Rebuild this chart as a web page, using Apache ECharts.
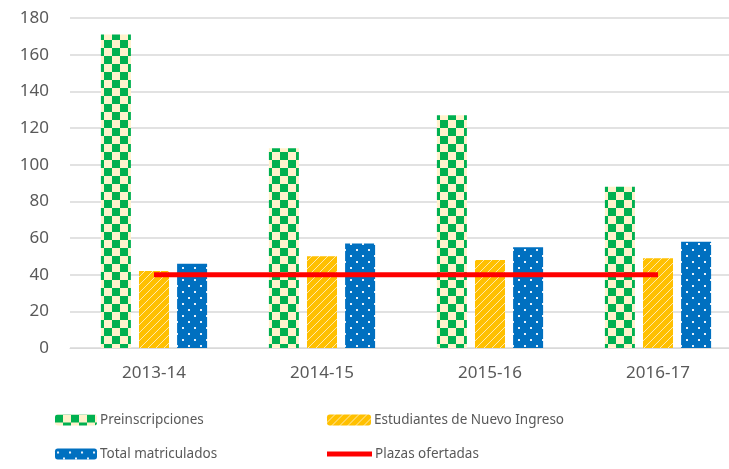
<!DOCTYPE html>
<html>
<head>
<meta charset="utf-8">
<script src="https://cdn.jsdelivr.net/npm/echarts@6/dist/echarts.min.js"></script>
<style>
  html, body { margin: 0; padding: 0; background: #fff; overflow: hidden; }
  #plot { width: 745px; height: 469px; }
</style>
</head>
<body>
<div id="plot"></div>
<script>
const years = ['2013-14', '2014-15', '2015-16', '2016-17'];
const preinscripciones = [171, 109, 127, 88];
const nuevoIngreso = [42, 50, 48, 49];
const matriculados = [46, 57, 55, 58];
const plazas = [40, 40, 40, 40];

// tiled fills that mimic the pattern fills of the original chart
function tile(size, draw) {
    const c = document.createElement('canvas');
    c.width = size;
    c.height = size;
    draw(c.getContext('2d'), size);
    return { image: c, repeat: 'repeat' };
}

const checker = tile(16, (ctx, s) => {
    ctx.fillStyle = '#FFF2CC';
    ctx.fillRect(0, 0, s, s);
    ctx.fillStyle = '#00B050';
    ctx.fillRect(0, 0, 8, 8);
    ctx.fillRect(8, 8, 8, 8);
});

const hatch = tile(8, (ctx, s) => {
    ctx.fillStyle = '#FFC000';
    ctx.fillRect(0, 0, s, s);
    ctx.strokeStyle = 'rgba(255,240,200,0.85)';
    ctx.lineWidth = 1;
    ctx.beginPath();
    ctx.moveTo(0, s);
    ctx.lineTo(s, 0);
    ctx.moveTo(-2, 2);
    ctx.lineTo(2, -2);
    ctx.moveTo(s - 2, s + 2);
    ctx.lineTo(s + 2, s - 2);
    ctx.stroke();
});

const dots = tile(12, (ctx, s) => {
    ctx.fillStyle = '#0070C0';
    ctx.fillRect(0, 0, s, s);
    ctx.fillStyle = '#E8F1FA';
    ctx.fillRect(2, 3, 2, 2);
    ctx.fillRect(8, 9, 2, 2);
});

const chart = echarts.init(document.getElementById('plot'));
const font = 'Noto Sans';
const grey = '#595959';
const legendText = { color: grey, fontFamily: font, fontSize: 13.5, padding: [0, 0, 0, -2] };

chart.setOption({
    animation: false,
    grid: { left: 70, width: 672, top: 18, bottom: 121 },
    xAxis: {
        type: 'category',
        data: years,
        axisLine: { lineStyle: { color: '#D9D9D9', width: 1 } },
        axisTick: { show: false },
        axisLabel: { color: grey, fontFamily: font, fontSize: 17, margin: 17 }
    },
    yAxis: {
        type: 'value',
        min: 0,
        max: 180,
        interval: 20,
        axisLine: { show: false },
        axisTick: { show: false },
        splitLine: { lineStyle: { color: '#D9D9D9', width: 1.5 } },
        axisLabel: { color: grey, fontFamily: font, fontSize: 17, margin: 21 }
    },
    legend: [{
        data: ['Preinscripciones', 'Total matriculados'],
        orient: 'vertical',
        left: 50,
        top: 408,
        itemWidth: 42,
        itemHeight: 11,
        itemGap: 20,
        textStyle: legendText
    }, {
        data: ['Estudiantes de Nuevo Ingreso'],
        left: 322,
        top: 408,
        itemWidth: 44,
        itemHeight: 11,
        textStyle: legendText
    }, {
        data: [{ name: 'Plazas ofertadas', icon: 'rect' }],
        left: 322,
        top: 442,
        itemWidth: 45,
        itemHeight: 5,
        textStyle: legendText
    }],
    series: [{
        name: 'Preinscripciones',
        type: 'bar',
        data: preinscripciones,
        barWidth: 30,
        barGap: '27%',
        itemStyle: { color: checker }
    }, {
        name: 'Estudiantes de Nuevo Ingreso',
        type: 'bar',
        data: nuevoIngreso,
        barWidth: 30,
        barGap: '27%',
        itemStyle: { color: hatch }
    }, {
        name: 'Total matriculados',
        type: 'bar',
        data: matriculados,
        barWidth: 30,
        barGap: '27%',
        itemStyle: { color: dots }
    }, {
        name: 'Plazas ofertadas',
        type: 'line',
        data: plazas,
        symbol: 'none',
        z: 5,
        lineStyle: { color: '#FF0000', width: 5 },
        itemStyle: { color: '#FF0000' }
    }]
});
</script>
</body>
</html>
